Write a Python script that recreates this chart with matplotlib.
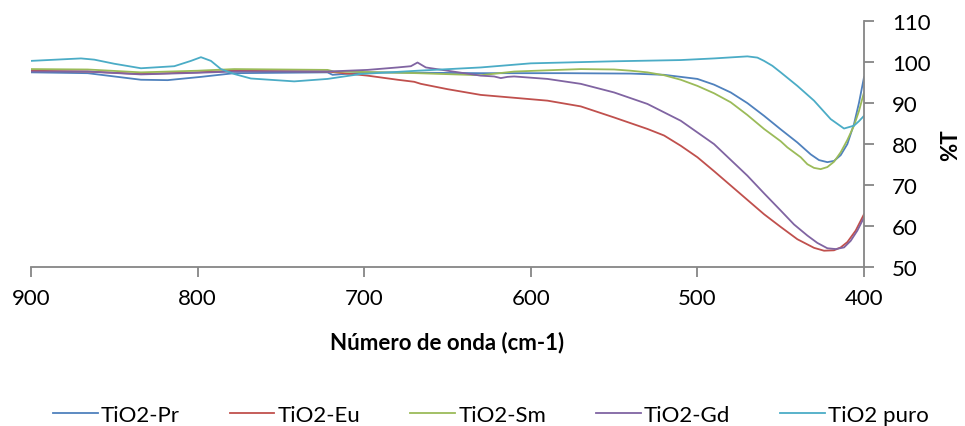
import matplotlib
matplotlib.use("Agg")
import matplotlib.pyplot as plt

plt.rcParams['font.family'] = ['Lato', 'DejaVu Sans']

# --- data (wavenumber cm-1, %T) ---
x_pr = [900, 866, 850, 834, 818, 798, 778, 722, 719, 698, 630, 580, 540, 520, 500, 490, 480, 470, 460, 450, 440, 432, 427, 422, 418, 414, 410, 406, 403, 400]
y_pr = [97.4, 97.2, 96.4, 95.6, 95.5, 96.3, 97.2, 97.4, 96.8, 97.4, 97.2, 97.2, 97.1, 96.8, 95.8, 94.4, 92.5, 89.9, 86.8, 83.5, 80.3, 77.4, 76.0, 75.5, 75.8, 77.2, 79.9, 84.8, 90.0, 96.2]

x_eu = [900, 866, 834, 800, 778, 722, 698, 680, 670, 666, 650, 630, 610, 590, 570, 550, 530, 520, 510, 500, 490, 480, 470, 460, 450, 440, 430, 424, 418, 414, 410, 405, 400]
y_eu = [97.8, 97.6, 97.0, 97.4, 97.8, 97.6, 96.6, 95.6, 95.1, 94.6, 93.3, 91.9, 91.2, 90.5, 89.1, 86.4, 83.6, 82.0, 79.5, 76.7, 73.3, 69.8, 66.3, 62.8, 59.7, 56.7, 54.6, 53.9, 54.0, 54.7, 56.0, 58.8, 62.8]

x_sm = [900, 866, 834, 800, 778, 722, 718, 700, 668, 630, 610, 590, 570, 550, 540, 530, 520, 510, 500, 490, 480, 470, 460, 450, 446, 438, 434, 430, 426, 422, 418, 414, 410, 406, 403, 400]
y_sm = [98.2, 98.1, 97.4, 97.8, 98.2, 98.0, 97.6, 97.5, 97.2, 96.7, 97.6, 97.9, 98.2, 98.1, 97.8, 97.4, 96.7, 95.6, 94.1, 92.3, 90.1, 87.0, 83.6, 80.6, 79.1, 76.7, 75.0, 74.1, 73.8, 74.3, 75.6, 77.9, 80.9, 84.4, 88.0, 92.5]

x_gd = [900, 866, 834, 800, 778, 722, 698, 680, 672, 668, 663, 650, 630, 622, 618, 614, 610, 590, 570, 550, 530, 510, 490, 470, 460, 450, 442, 434, 428, 422, 417, 412, 408, 404, 400]
y_gd = [97.6, 97.6, 96.9, 97.3, 97.6, 97.6, 98.0, 98.6, 98.9, 99.8, 98.6, 97.8, 96.6, 96.4, 96.0, 96.3, 96.4, 95.8, 94.6, 92.5, 89.7, 85.6, 79.9, 72.2, 67.9, 63.7, 60.3, 57.6, 55.8, 54.5, 54.3, 54.7, 56.3, 58.8, 62.0]

x_pu = [900, 870, 862, 850, 834, 814, 804, 798, 792, 786, 778, 768, 742, 722, 702, 668, 630, 600, 550, 510, 490, 470, 464, 460, 455, 450, 440, 430, 420, 412, 406, 403, 400]
y_pu = [100.2, 100.8, 100.5, 99.5, 98.4, 98.9, 100.2, 101.1, 100.2, 98.2, 97.0, 95.9, 95.2, 95.8, 97.0, 97.8, 98.6, 99.6, 100.1, 100.4, 100.8, 101.3, 101.0, 100.2, 99.0, 97.4, 94.1, 90.5, 86.0, 83.7, 84.4, 85.5, 86.8]

labels = ['TiO2-Pr', 'TiO2-Eu', 'TiO2-Sm', 'TiO2-Gd', 'TiO2 puro']
colors = ['#4F81BD', '#C0504D', '#9BBB59', '#8064A2', '#4BACC6']
x_ticks = [900, 800, 700, 600, 500, 400]
y_ticks = [50, 60, 70, 80, 90, 100, 110]

fig = plt.figure(figsize=(9.65, 4.27), dpi=100)
ax = fig.add_axes([31/965, 1 - 267.7/427, (864 - 31)/965, (267.7 - 21.7)/427])

series = [(x_pr, y_pr), (x_eu, y_eu), (x_sm, y_sm), (x_gd, y_gd), (x_pu, y_pu)]
for (xs, ys), lab, c in zip(series, labels, colors):
    ax.plot(xs, ys, color=c, lw=1.3, label=lab, solid_joinstyle='round')

ax.set_xlim(900, 400)
ax.set_ylim(50, 110)
ax.set_xticks(x_ticks)
ax.set_yticks(y_ticks)
ax.yaxis.tick_right()

for s in ['top', 'left']:
    ax.spines[s].set_visible(False)
for s in ['bottom', 'right']:
    ax.spines[s].set_color('#868686')
    ax.spines[s].set_linewidth(1.3)

ax.tick_params(axis='both', colors='#868686', labelcolor='black', labelsize=16,
               length=7, width=1.3, direction='out')
ax.tick_params(axis='x', pad=8)
ax.tick_params(axis='y', pad=13)

ax.set_xlabel('Número de onda (cm-1)', fontsize=16, fontweight='bold', labelpad=17)
fig.text(951/965, 1 - 145/427, '%T', rotation=90, ha='center', va='center',
         fontsize=16, fontweight='bold')

leg = fig.legend(loc='center', bbox_to_anchor=(491/965, 1 - 416/427), ncol=5,
                 frameon=False, fontsize=16, handlelength=2.0, handletextpad=0.15,
                 columnspacing=2.25)

fig.savefig('out.png', dpi=100)
